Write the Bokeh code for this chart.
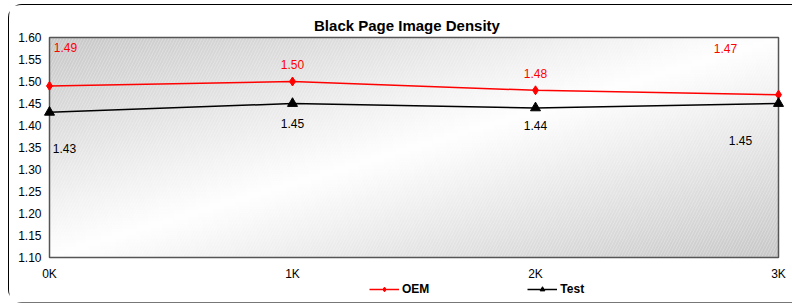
import numpy as np
from bokeh.plotting import figure
from bokeh.core.properties import value
from bokeh.models import Legend, LegendItem, LabelSet, Label, ColumnDataSource
from bokeh.embed import file_html
from bokeh.resources import INLINE

title = "Black Page Image Density"
categories = ["0K", "1K", "2K", "3K"]
oem = [1.49, 1.50, 1.48, 1.47]
test = [1.43, 1.45, 1.44, 1.45]
y_ticks = [1.10, 1.15, 1.20, 1.25, 1.30, 1.35, 1.40, 1.45, 1.50, 1.55, 1.60]
y_min, y_max = 1.10, 1.60

# label offsets (screen px) mimicking the original placement
oem_dx = [16, 0, 0, -53]
oem_dy = [38, 17, 17, 46]
test_dx = [15, 0, 0, -38]
test_dy = [-36, -20, -18, -37]

x = list(range(len(categories)))
FONT = "Liberation Sans"
FS = "12px"

# layout (pixels): figure 784x299, plot area 729x220 starting 40px from left, 32px from top
W, H = 784, 299
PA_L, PA_T, PA_W, PA_H = 40, 32, 729, 220
px_x = PA_W / (len(categories) - 1)
px_y = PA_H / (y_max - y_min)
x_start = -PA_L / px_x
x_end = (W - PA_L) / px_x
y_end = y_max + PA_T / px_y
y_start = y_max - (H - PA_T) / px_y

p = figure(width=W, height=H, x_range=(x_start, x_end), y_range=(y_start, y_end),
           output_backend="svg", toolbar_location=None,
           x_axis_location=None, y_axis_location=None,
           min_border_left=0, min_border_right=0, min_border_top=0, min_border_bottom=0)
p.styles = {"border-left": "1px solid black", "border-top": "1px solid black",
            "border-bottom": "1px solid #777777",
            "border-radius": "14px 0px 0px 14px",
            "margin-left": "8px", "margin-top": "4px"}
p.outline_line_color = None
p.grid.visible = False
p.background_fill_color = "white"

# gradient background for plot area
ny, nx = 60, 200
u = np.linspace(0, 1, nx)[None, :]
v = np.linspace(1, 0, ny)[:, None]
t = np.abs((u + v) / 2 - 0.5) * 2
g = (255 - 55 * t).astype(np.uint32)
img = np.empty((ny, nx), dtype=np.uint32)
view = img.view(dtype=np.uint8).reshape((ny, nx, 4))
view[:, :, 0] = g
view[:, :, 1] = g
view[:, :, 2] = g
view[:, :, 3] = 255
x0, x1 = 0, len(categories) - 1
p.image_rgba(image=[img], x=x0, y=y_min, dw=x1 - x0, dh=y_max - y_min)
p.quad(left=x0, right=x1, bottom=y_min, top=y_max, fill_alpha=0,
       line_color="#555555", line_width=1.5,
       hatch_pattern="right_diagonal_line", hatch_color="white", hatch_alpha=0.25,
       hatch_scale=6, hatch_weight=1)

r1 = p.line(x, oem, line_color="red", line_width=1.5)
m1 = p.scatter(x, oem, marker="diamond", size=9, fill_color="red", line_color="red")
r2 = p.line(x, test, line_color="black", line_width=1.5)
m2 = p.scatter(x, test, marker="triangle", size=10, fill_color="black", line_color="black")

src1 = ColumnDataSource(dict(x=x, y=oem, t=[f"{v:.2f}" for v in oem], dx=oem_dx, dy=oem_dy))
src2 = ColumnDataSource(dict(x=x, y=test, t=[f"{v:.2f}" for v in test], dx=test_dx, dy=test_dy))
for src, col in ((src1, "red"), (src2, "black")):
    p.add_layout(LabelSet(x="x", y="y", text="t", source=src, x_offset="dx", y_offset="dy",
                          text_align="center", text_baseline="middle", text_color=col,
                          text_font=value(FONT), text_font_size=FS))

# axis tick labels
ysrc = ColumnDataSource(dict(x=[x0] * len(y_ticks), y=y_ticks, t=[f"{v:.2f}" for v in y_ticks]))
p.add_layout(LabelSet(x="x", y="y", text="t", source=ysrc, x_offset=-8,
                      text_align="right", text_baseline="middle", text_color="black",
                      text_font=value(FONT), text_font_size=FS))
xsrc = ColumnDataSource(dict(x=x, y=[y_min] * len(x), t=categories))
p.add_layout(LabelSet(x="x", y="y", text="t", source=xsrc, y_offset=-16,
                      text_align="center", text_baseline="middle", text_color="black",
                      text_font=value(FONT), text_font_size=FS))

# title
p.add_layout(Label(x=(x0 + x1) / 2, y=y_max, x_offset=-7, y_offset=12, text=title,
                   text_align="center", text_baseline="middle", text_color="black",
                   text_font=FONT, text_font_size="15px", text_font_style="bold"))

legend = Legend(items=[LegendItem(label="OEM", renderers=[r1, m1]),
                       LegendItem(label="Test", renderers=[r2, m2])],
                orientation="horizontal", location=(360, 8),
                label_text_font=FONT, label_text_font_size=FS, label_text_font_style="bold",
                label_text_color="black",
                border_line_color=None, background_fill_alpha=0, spacing=98,
                glyph_width=30, glyph_height=12, padding=2, margin=0, label_standoff=3,
                label_height=12)
p.add_layout(legend)

open("out.html", "w").write(file_html(p, INLINE))
